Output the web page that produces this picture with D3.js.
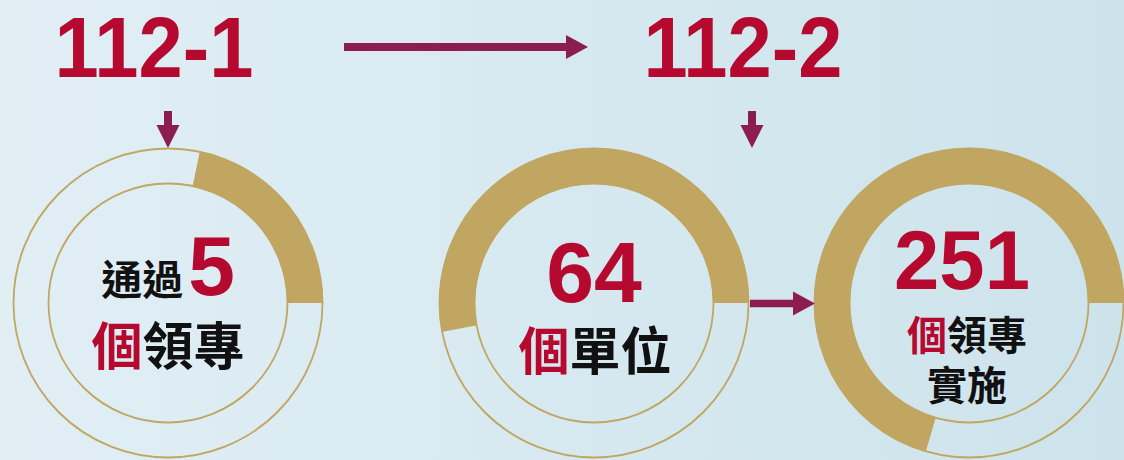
<!DOCTYPE html>
<html><head><meta charset="utf-8">
<script src="https://cdn.jsdelivr.net/npm/d3@7"></script>
<style>
html,body{margin:0;padding:0;background:#d8eaf0;}
svg{display:block;}
</style></head>
<body><svg id="c" width="1124" height="460"></svg>
<script>
// ---- data ----
const terms = ["112-1", "112-2"];
const ringValues = ["5", "64", "251"];
const ringShares = [0.217, 0.53, 0.705];   // gold share of each ring
const ringPrefix = ["通過", "", ""];
const ringUnit = ["個", "個", "個"];
const ringLabel = ["領專", "單位", "領專"];
const ringExtra = ["", "", "實施"];

// ---- layout ----
const W = 1124, H = 460;
const RED = "#b5092f", GOLD = "#c0a661", ARROW = "#8c1d4f", INK = "#111";
const NUM = "'Liberation Sans', Arial, sans-serif";
const CJK = "'Noto Sans CJK TC', 'Noto Sans CJK SC', sans-serif";
const svg = d3.select("#c");

const defs = svg.append("defs");
const g = defs.append("linearGradient").attr("id", "bg").attr("x1", 0).attr("x2", 1).attr("y1", 0).attr("y2", 0);
g.append("stop").attr("offset", 0).attr("stop-color", "#e1eff5");
g.append("stop").attr("offset", 1).attr("stop-color", "#cde3eb");
svg.append("rect").attr("width", W).attr("height", H).attr("fill", "url(#bg)");

const centers = [168, 594, 969];
const cy = 303, rOut = 155, rIn = 119;

const arc = d3.arc().innerRadius(rIn).outerRadius(rOut);
const rings = svg.selectAll("g.ring").data(ringShares).join("g")
  .attr("class", "ring")
  .attr("transform", (d, i) => `translate(${centers[i]},${cy})`);
rings.append("circle").attr("r", rOut - 0.5).attr("fill", "none").attr("stroke", GOLD).attr("stroke-width", 1.8);
rings.append("circle").attr("r", rIn + 0.5).attr("fill", "none").attr("stroke", GOLD).attr("stroke-width", 1.8);
rings.append("path").attr("fill", GOLD)
  .attr("d", d => arc({startAngle: Math.PI / 2 - d * 2 * Math.PI, endAngle: Math.PI / 2}));

// titles (slightly condensed like the reference)
const titleX = [154, 743];
svg.selectAll("text.term").data(terms).join("text").attr("class", "term")
  .attr("transform", (d, i) => `translate(${titleX[i]},77) scale(0.925,1)`)
  .attr("text-anchor", "middle").attr("font-family", NUM).attr("font-weight", 700)
  .attr("font-size", 86).attr("fill", RED).text(d => d);

// arrows
function arrow(x1, y1, x2, y2, shaft, headW, headL) {
  const ang = Math.atan2(y2 - y1, x2 - x1);
  const len = Math.hypot(x2 - x1, y2 - y1);
  const grp = svg.append("g").attr("transform", `translate(${x1},${y1}) rotate(${ang * 180 / Math.PI})`);
  grp.append("rect").attr("x", 0).attr("y", -shaft / 2).attr("width", len - headL + 1).attr("height", shaft).attr("fill", ARROW);
  grp.append("path").attr("d", `M${len - headL},${-headW / 2}L${len},0L${len - headL},${headW / 2}Z`).attr("fill", ARROW);
}
arrow(344, 47, 588, 47, 8, 24, 22);
arrow(168, 111, 168, 148, 8, 23, 23);
arrow(752, 111, 752, 148, 8, 23, 23);
arrow(750, 303.5, 815, 303.5, 7.5, 24, 22);

// ring texts
// ring 1
const t1 = svg.append("text").attr("x", centers[0]).attr("y", 295).attr("text-anchor", "middle");
t1.append("tspan").attr("font-family", CJK).attr("font-weight", 700).attr("font-size", 41).attr("fill", INK).text(ringPrefix[0]);
t1.append("tspan").attr("font-family", NUM).attr("font-weight", 700).attr("font-size", 84).attr("fill", RED).attr("dx", 5).text(ringValues[0]);
const t1b = svg.append("text").attr("x", centers[0]).attr("y", 365).attr("text-anchor", "middle")
  .attr("font-family", CJK).attr("font-weight", 700).attr("font-size", 51);
t1b.append("tspan").attr("fill", RED).text(ringUnit[0]);
t1b.append("tspan").attr("fill", INK).text(ringLabel[0]);

// ring 2
svg.append("text").attr("x", centers[1]).attr("y", 302).attr("text-anchor", "middle")
  .attr("font-family", NUM).attr("font-weight", 700).attr("font-size", 86).attr("fill", RED).text(ringValues[1]);
const t2b = svg.append("text").attr("x", centers[1] + 1).attr("y", 370).attr("text-anchor", "middle")
  .attr("font-family", CJK).attr("font-weight", 700).attr("font-size", 51);
t2b.append("tspan").attr("fill", RED).text(ringUnit[1]);
t2b.append("tspan").attr("fill", INK).text(ringLabel[1]);

// ring 3
svg.append("text").attr("transform", "translate(962,289) scale(0.97,1)").attr("text-anchor", "middle")
  .attr("font-family", NUM).attr("font-weight", 700).attr("font-size", 84).attr("fill", RED).text(ringValues[2]);
const t3b = svg.append("text").attr("text-anchor", "middle")
  .attr("font-family", CJK).attr("font-weight", 700).attr("font-size", 40);
t3b.append("tspan").attr("x", 967).attr("y", 350).attr("fill", RED).text(ringUnit[2]);
t3b.append("tspan").attr("fill", INK).text(ringLabel[2]);
t3b.append("tspan").attr("x", 967).attr("y", 400).attr("fill", INK).text(ringExtra[2]);
</script></body></html>
